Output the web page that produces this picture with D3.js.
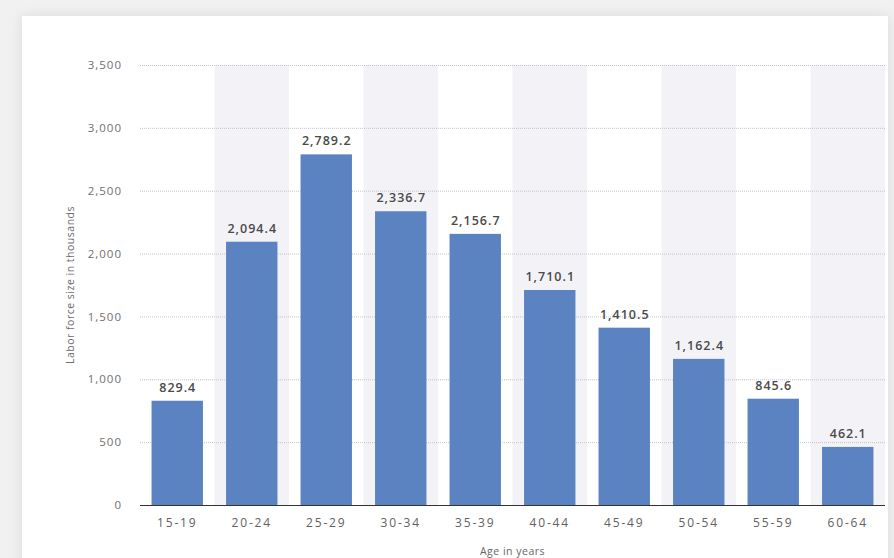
<!DOCTYPE html>
<html>
<head>
<meta charset="utf-8">
<script src="https://cdn.jsdelivr.net/npm/d3@7"></script>
<style>
  body { margin: 0; background: #f1f1f2; font-family: "Open Sans", "Noto Sans", sans-serif; }
  #chart { position: absolute; left: 0; top: 0; }
</style>
</head>
<body>
<div id="chart"></div>
<script>
// Chart data
var categories = ["15-19", "20-24", "25-29", "30-34", "35-39", "40-44", "45-49", "50-54", "55-59", "60-64"];
var values = [829.4, 2094.4, 2789.2, 2336.7, 2156.7, 1710.1, 1410.5, 1162.4, 845.6, 462.1];
var yTicks = [0, 500, 1000, 1500, 2000, 2500, 3000, 3500];

var W = 894, H = 558;
var plot = {left: 140, right: 885, top: 65, bottom: 505};

var svg = d3.select("#chart").append("svg")
    .attr("width", W)
    .attr("height", H);

// soft shadow for the card
var defs = svg.append("defs");
var filt = defs.append("filter").attr("id", "shadow")
    .attr("x", "-5%").attr("y", "-5%").attr("width", "110%").attr("height", "110%");
filt.append("feGaussianBlur").attr("in", "SourceAlpha").attr("stdDeviation", 7);
filt.append("feOffset").attr("dx", 0).attr("dy", 0).attr("result", "blur");
filt.append("feComponentTransfer").append("feFuncA").attr("type", "linear").attr("slope", 0.1);
var merge = filt.append("feMerge");
merge.append("feMergeNode");
merge.append("feMergeNode").attr("in", "SourceGraphic");

svg.append("rect")
    .attr("x", 22).attr("y", 16)
    .attr("width", 866).attr("height", 560)
    .attr("fill", "#fff")
    .attr("filter", "url(#shadow)");

// scales
var xBand = d3.scaleBand()
    .domain(categories)
    .range([plot.left, plot.right])
    .padding(0);

var xBar = d3.scaleBand()
    .domain(categories)
    .range([plot.left, plot.right])
    .paddingInner(0.31)
    .paddingOuter(0.155);

var yScale = d3.scaleLinear()
    .domain([0, 3500])
    .range([plot.bottom, plot.top]);

// alternating column shading
svg.append("g").selectAll("rect")
    .data(categories.filter(function(d, i) { return i % 2 === 1; }))
    .enter().append("rect")
    .attr("x", function(d) { return xBand(d); })
    .attr("y", plot.top)
    .attr("width", xBand.bandwidth())
    .attr("height", plot.bottom - plot.top)
    .attr("fill", "#f3f3f7");

// gridlines
svg.append("g").selectAll("line")
    .data(yTicks.filter(function(d) { return d > 0; }))
    .enter().append("line")
    .attr("x1", plot.left).attr("x2", plot.right)
    .attr("y1", function(d) { return yScale(d) + 0.5; })
    .attr("y2", function(d) { return yScale(d) + 0.5; })
    .attr("stroke", "#c4c4c4")
    .attr("stroke-width", 1)
    .attr("stroke-dasharray", "1,1");

// Y axis labels
var yAxis = d3.axisLeft(yScale)
    .tickValues(yTicks)
    .tickFormat(d3.format(","))
    .tickSize(0)
    .tickPadding(0);
var yg = svg.append("g")
    .attr("transform", "translate(122,0)")
    .call(yAxis);
yg.select(".domain").remove();
yg.selectAll("text")
    .attr("fill", "#707070")
    .style("font-family", "'Open Sans', sans-serif")
    .style("font-size", "11.5px")
    .style("letter-spacing", "1px");

// bars
svg.append("g").selectAll("rect")
    .data(values)
    .enter().append("rect")
    .attr("x", function(d, i) { return xBar(categories[i]); })
    .attr("y", function(d) { return yScale(d); })
    .attr("width", xBar.bandwidth())
    .attr("height", function(d) { return plot.bottom - yScale(d); })
    .attr("fill", "#5b83c2");

// value labels
var fmt = d3.format(",.1f");
svg.append("g").selectAll("text")
    .data(values)
    .enter().append("text")
    .attr("x", function(d, i) { return xBar(categories[i]) + xBar.bandwidth() / 2 + 0.5; })
    .attr("y", function(d) { return yScale(d) - 9; })
    .attr("text-anchor", "middle")
    .attr("fill", "#4a4a4a")
    .style("font-size", "12.5px")
    .style("font-weight", "600")
    .style("letter-spacing", "1px")
    .text(function(d) { return fmt(d); });

// baseline
svg.append("line")
    .attr("x1", plot.left).attr("x2", plot.right)
    .attr("y1", plot.bottom + 0.5).attr("y2", plot.bottom + 0.5)
    .attr("stroke", "#333")
    .attr("stroke-width", 1.2);

// X axis labels
var xAxis = d3.axisBottom(xBand).tickSize(0).tickPadding(0);
var xg = svg.append("g")
    .attr("transform", "translate(0," + (plot.bottom + 22) + ")")
    .call(xAxis);
xg.select(".domain").remove();
xg.selectAll("text")
    .attr("dy", 0)
    .attr("fill", "#616161")
    .style("font-family", "'Open Sans', sans-serif")
    .style("font-size", "12px")
    .style("letter-spacing", "1.8px");

// axis titles
svg.append("text")
    .attr("x", (plot.left + plot.right) / 2)
    .attr("y", 555)
    .attr("text-anchor", "middle")
    .attr("fill", "#666")
    .style("font-size", "10.5px")
    .style("letter-spacing", "0.5px")
    .text("Age in years");

svg.append("text")
    .attr("transform", "translate(74," + 285 + ") rotate(-90)")
    .attr("text-anchor", "middle")
    .attr("fill", "#6b6b6b")
    .style("font-size", "10.5px")
    .style("letter-spacing", "0.5px")
    .text("Labor force size in thousands");
</script>
</body>
</html>
